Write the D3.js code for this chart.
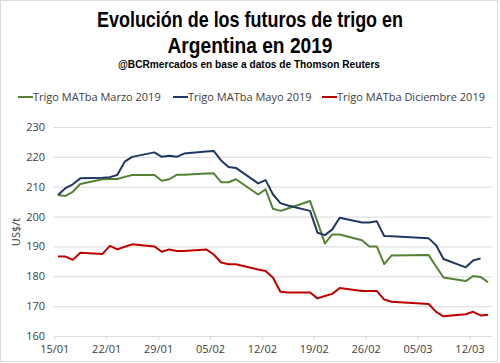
<!DOCTYPE html>
<html>
<head>
<meta charset="utf-8">
<script src="https://cdn.jsdelivr.net/npm/d3@7"></script>
<style>
  body { margin: 0; background: #fff; }
  svg { display: block; }
  .tick text { font-family: "Open Sans", sans-serif; font-size: 11px; fill: #404040; }
</style>
</head>
<body>
<div id="chart"></div>
<script>
// fechas de rueda (dd/mm/2019)
var fechas = ["15/01","16/01","17/01","18/01","21/01","22/01","23/01","24/01","25/01",
  "28/01","29/01","30/01","31/01","01/02","04/02","05/02","06/02","07/02","08/02",
  "11/02","12/02","13/02","14/02","15/02","18/02","19/02","20/02","21/02","22/02",
  "25/02","26/02","27/02","28/02","01/03","06/03","07/03","08/03","11/03","12/03","13/03","14/03"];

var marzo = [207.2,206.9,208.3,210.9,212.5,212.6,212.6,213.3,213.9,
  213.9,212.0,212.5,214.0,214.0,214.4,214.5,211.5,211.5,212.5,
  207.4,209.1,202.6,201.9,202.7,205.2,198.2,191.0,194.0,194.0,
  192.1,190.0,190.0,184.1,187.0,187.1,183.3,179.6,178.4,180.1,179.8,178.0];

var mayo = [207.2,209.5,210.8,212.8,213.0,213.2,213.9,218.4,220.0,
  221.5,220.0,220.4,220.0,221.1,221.8,222.0,218.8,216.6,216.3,
  211.1,212.2,207.4,204.5,203.7,201.9,194.6,193.8,195.7,199.6,
  198.0,198.0,198.4,193.5,193.4,192.7,190.4,185.8,183.0,185.3,186.0,null];

var diciembre = [186.6,186.6,185.5,187.9,187.5,190.2,189.0,189.9,190.7,
  190.0,188.2,189.0,188.5,188.5,189.0,187.3,184.6,184.0,184.0,
  182.3,181.8,179.5,174.8,174.6,174.6,172.6,173.4,174.1,176.1,
  175.1,175.1,175.1,172.2,171.5,170.7,168.1,166.6,167.3,168.1,166.9,167.1];

var ticksX = ["15/01","22/01","29/01","05/02","12/02","19/02","26/02","05/03","12/03"];
var ticksY = [160,170,180,190,200,210,220,230];

var series = [
  { nombre: "Trigo MATba Marzo 2019", valores: marzo, color: "#548235" },
  { nombre: "Trigo MATba Mayo 2019", valores: mayo, color: "#1f3864" },
  { nombre: "Trigo MATba Diciembre 2019", valores: diciembre, color: "#c00000" }
];

var W = 500, H = 363;
var parse = d3.timeParse("%d/%m/%Y");
function dia(s) { return parse(s + "/2019"); }
// Excel pone el punto en el centro del dia
function medioDia(s) { return d3.timeHour.offset(dia(s), 12); }

var svg = d3.select("#chart").append("svg")
  .attr("width", W)
  .attr("height", H);

svg.append("rect")
  .attr("x", 0.5).attr("y", 0.5)
  .attr("width", 497).attr("height", 361)
  .attr("fill", "#fff")
  .attr("stroke", "#d9d9d9");

// titulos
svg.append("text")
  .attr("x", 250).attr("y", 27)
  .attr("text-anchor", "middle")
  .attr("font-family", "Liberation Sans Narrow, Arial Narrow, sans-serif")
  .attr("font-weight", "bold")
  .attr("font-size", 22)
  .attr("textLength", 306)
  .attr("lengthAdjust", "spacingAndGlyphs")
  .text("Evolución de los futuros de trigo en");

svg.append("text")
  .attr("x", 250).attr("y", 53)
  .attr("text-anchor", "middle")
  .attr("font-family", "Liberation Sans Narrow, Arial Narrow, sans-serif")
  .attr("font-weight", "bold")
  .attr("font-size", 22)
  .attr("textLength", 165)
  .attr("lengthAdjust", "spacingAndGlyphs")
  .text("Argentina en 2019");

svg.append("text")
  .attr("x", 249).attr("y", 68)
  .attr("text-anchor", "middle")
  .attr("font-family", "Liberation Sans Narrow, Arial Narrow, sans-serif")
  .attr("font-weight", "bold")
  .attr("font-size", 10)
  .attr("textLength", 262)
  .attr("lengthAdjust", "spacingAndGlyphs")
  .text("@BCRmercados en base a datos de Thomson Reuters");

// leyenda
var legX = [18, 173, 322];
var leg = svg.selectAll(".leg").data(series).enter().append("g")
  .attr("class", "leg")
  .attr("transform", function(d, i) { return "translate(" + legX[i] + ",97)"; });
leg.append("line")
  .attr("x1", 0).attr("x2", 15)
  .attr("stroke", function(d) { return d.color; })
  .attr("stroke-width", 2);
leg.append("text")
  .attr("x", 15).attr("y", 4)
  .attr("font-family", "Open Sans, sans-serif")
  .attr("font-size", 11)
  .attr("fill", "#404040")
  .text(function(d) { return d.nombre; });

// escalas
var x = d3.scaleTime()
  .domain([dia("15/01"), dia("15/03")])
  .range([54.3, 491.7]);
var y = d3.scaleLinear()
  .domain([160, 230])
  .range([336, 127]);

// grilla
svg.append("g")
  .attr("transform", "translate(54,0)")
  .call(d3.axisLeft(y).tickValues(ticksY).tickSize(-438).tickPadding(8).tickFormat(d3.format("d")))
  .call(function(g) {
    g.select(".domain").remove();
    g.selectAll(".tick line").attr("stroke", "#d9d9d9");
    g.selectAll(".tick text").attr("x", -9);
  });

// eje x
svg.append("g")
  .attr("transform", "translate(0,336)")
  .call(d3.axisBottom(x).tickValues(ticksX.map(dia)).tickSize(4).tickPadding(5)
    .tickFormat(d3.timeFormat("%d/%m")))
  .call(function(g) {
    g.select(".domain").attr("stroke", "#d9d9d9").attr("d", "M54,0.5H492");
    g.selectAll(".tick line").attr("stroke", "#d9d9d9");
  });

// etiqueta eje y
svg.append("text")
  .attr("transform", "translate(20,232) rotate(-90)")
  .attr("text-anchor", "middle")
  .attr("font-family", "Open Sans, sans-serif")
  .attr("font-size", 11)
  .attr("fill", "#404040")
  .text("US$/t");

// lineas
var linea = d3.line()
  .defined(function(d) { return d.v != null; })
  .x(function(d) { return x(d.t); })
  .y(function(d) { return y(d.v); });

svg.selectAll(".serie").data(series).enter().append("path")
  .attr("class", "serie")
  .attr("fill", "none")
  .attr("stroke", function(d) { return d.color; })
  .attr("stroke-width", 2)
  .attr("stroke-linejoin", "round")
  .attr("d", function(d) {
    return linea(d.valores.map(function(v, i) { return { t: medioDia(fechas[i]), v: v }; }));
  });
</script>
</body>
</html>
